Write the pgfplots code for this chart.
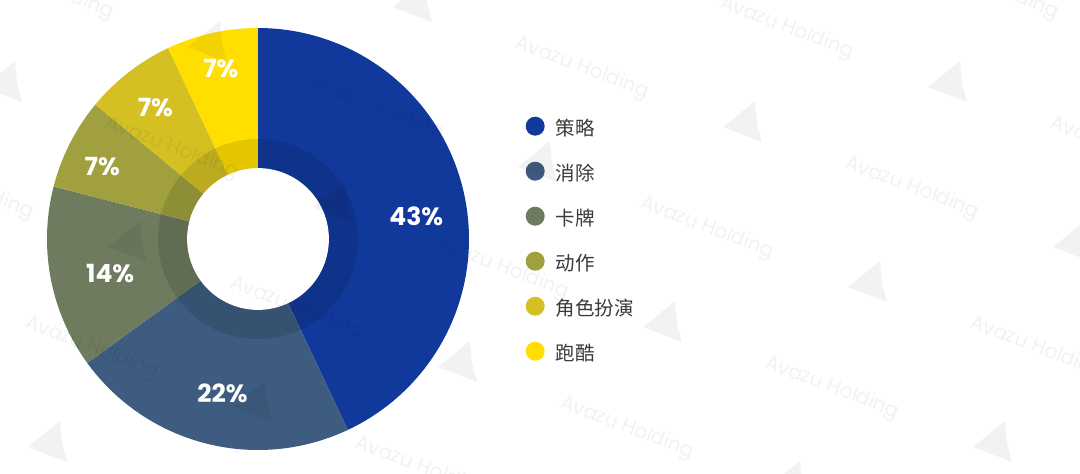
\documentclass[border=0pt]{standalone}
\usepackage{pgfplots}
\pgfplotsset{compat=1.18}
\usepgfplotslibrary{polar}
\usepackage{fontspec}
\setmainfont{Poppins}
\newfontfamily\cjk{Noto Sans CJK SC}

\definecolor{celue}{RGB}{17,57,156}
\definecolor{xiaochu}{RGB}{62,91,128}
\definecolor{kapai}{RGB}{110,123,94}
\definecolor{dongzuo}{RGB}{160,160,62}
\definecolor{juese}{RGB}{212,192,35}
\definecolor{paoku}{RGB}{255,222,0}
\definecolor{legtext}{RGB}{58,58,58}

% one donut slice between two cumulative percentages, clockwise from 12 o'clock
\newcommand{\slice}[3]{%
  \addplot[draw=none, fill=#1, domain=90-3.6*#3:90-3.6*#2, samples=120] {1} -- (axis cs:0,0) -- cycle;}

\begin{document}
\begin{tikzpicture}
\path[use as bounding box, fill=white] (0pt,0pt) rectangle (1080pt,474pt);
\clip (0pt,0pt) rectangle (1080pt,474pt);

\begin{polaraxis}[
  at={(258pt,235pt)}, anchor=center,
  scale only axis, width=422pt, height=422pt,
  hide axis, xmin=0, xmax=360, ymin=0, ymax=1,
  clip=false,
  legend cell align=left,
  legend style={at={(1.1339,0.7903)}, anchor=north west, draw=none, fill=none,
    inner sep=0pt, row sep=22pt, text=legtext,
    font=\cjk\fontsize{19.5}{23}\selectfont,
    nodes={inner sep=0pt, text height=14pt, text depth=4pt}},
  legend image code/.code={\fill[#1] (9.5pt,4.5pt) circle (9.5pt); \path (0pt,0pt) (30pt,0pt);},
]
% shares in percent: 43, 22, 14, 7, 7, 7 (cumulative bounds below)
\slice{celue}{0}{43}
\addlegendentry{策略}
\slice{xiaochu}{43}{65}
\addlegendentry{消除}
\slice{kapai}{65}{79}
\addlegendentry{卡牌}
\slice{dongzuo}{79}{86}
\addlegendentry{动作}
\slice{juese}{86}{93}
\addlegendentry{角色扮演}
\slice{paoku}{93}{100}
\addlegendentry{跑酷}

% darker inner band and hole
\addplot[forget plot, draw=none, fill=black, fill opacity=0.11, domain=0:360, samples=180] {0.474} -- cycle;
\addplot[forget plot, draw=none, fill=white, domain=0:360, samples=180] {0.336} -- cycle;

\begin{scope}[every node/.style={text=white, font=\fontsize{25}{30}\selectfont\bfseries}]
\node at (axis cs:8.3,0.758) {43\%};
\node at (axis cs:257,0.749) {22\%};
\node at (axis cs:193.3,0.72) {14\%};
\node at (axis cs:154.9,0.815) {7\%};
\node at (axis cs:128,0.79) {7\%};
\node at (axis cs:102.3,0.825) {7\%};
\end{scope}
\end{polaraxis}

% watermark
\begin{scope}[x=1pt, y=1pt]
\foreach \i in {-2,...,5}{
  \foreach \j in {-2,...,3}{
    \begin{scope}[shift={(787-205*\i+125*\j,446-40*\i-160*\j)}]
      \node[rotate=-21, text=black, opacity=0.05, font=\fontsize{20}{24}\selectfont] at (0,0) {Avazu Holding};
      \fill[black, opacity=0.05, shift={(160,-54)}] (-19,-5) -- (13,21) -- (15,-1) -- (20,-20) -- cycle;
    \end{scope}
  }
}
\end{scope}
\end{tikzpicture}
\end{document}
